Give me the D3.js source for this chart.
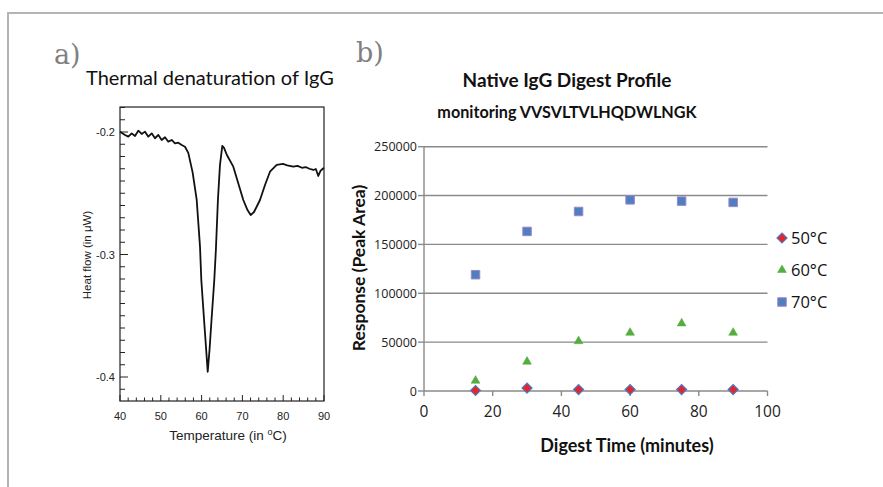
<!DOCTYPE html>
<html><head><meta charset="utf-8">
<script src="https://cdn.jsdelivr.net/npm/d3@7"></script>
<style>html,body{margin:0;padding:0;background:#fff;}svg{display:block;}</style>
</head><body>
<svg id="chart" width="883" height="487"></svg>
<script>
// ---- Panel a) thermal denaturation (DSC trace) ----
const thermalTemp = [40.0,41.23,42.04,42.87,43.68,44.49,45.32,46.13,46.94,47.77,48.58,49.39,50.22,51.03,51.84,52.67,53.48,54.29,55.12,55.93,56.74,57.8,58.8,59.61,59.93,60.71,61.5,61.94,62.43,63.11,63.5,64.0,64.5,65.07,65.5,66.2,67.77,70.22,71.25,72.03,72.84,74.31,75.54,76.76,78.41,79.95,81.0,82.48,83.5,84.6,85.5,86.4,87.38,88.0,88.6,89.14,89.83,90.0];
const thermalHeat = [-0.1997,-0.2024,-0.2038,-0.2011,-0.2033,-0.1989,-0.2016,-0.1997,-0.2038,-0.2011,-0.2051,-0.2024,-0.2065,-0.2043,-0.2079,-0.2065,-0.2092,-0.2087,-0.2106,-0.2120,-0.2170,-0.2330,-0.2555,-0.2936,-0.3208,-0.3584,-0.3957,-0.3780,-0.3535,-0.3208,-0.2963,-0.2555,-0.2270,-0.2114,-0.2130,-0.2188,-0.2283,-0.2555,-0.2637,-0.2678,-0.2653,-0.2555,-0.2433,-0.2324,-0.2269,-0.2261,-0.2272,-0.2283,-0.2276,-0.2292,-0.2286,-0.2300,-0.2310,-0.2302,-0.2359,-0.2318,-0.2296,-0.2294];
const thermalXTicks = [40,50,60,70,80,90];
const thermalYTicks = [-0.2,-0.3,-0.4];

// ---- Panel b) native IgG digest profile ----
const digestTimes = [15,30,45,60,75,90];
const series50 = [500,3000,1500,1500,1500,1500];
const series60 = [10500,30000,51000,59600,69200,59600];
const series70 = [119000,163300,183700,195600,194300,193000];
const seriesNames = ["50°C","60°C","70°C"];
const digestXTicks = [0,20,40,60,80,100];
const digestYTicks = [0,50000,100000,150000,200000,250000];

const svg = d3.select("#chart");

// outer frame
svg.append("path").attr("d","M8,487 L8,13 L883,13").attr("fill","none").attr("stroke","#b4b4b4").attr("stroke-width",2);

// panel letters
svg.append("text").attr("x",54).attr("y",64).text("a)")
  .attr("font-family","DejaVu Serif").attr("font-size",27).attr("fill","#808080");
svg.append("text").attr("x",356).attr("y",62).text("b)")
  .attr("font-family","DejaVu Serif").attr("font-size",27).attr("fill","#808080");

// ===== Panel a =====
const ax = d3.scaleLinear().domain([40,90]).range([120,324]);
const ay = d3.scaleLinear().domain([-0.2,-0.4]).range([132,377]);
const aTop = ay(-0.1796), aBot = ay(-0.4196);

svg.append("text").attr("x",86).attr("y",85).text("Thermal denaturation of IgG")
  .attr("font-family","Lato").attr("font-size",20).attr("fill","#111");

const ga = svg.append("g");
ga.append("rect").attr("x",ax(40)).attr("y",aTop).attr("width",ax(90)-ax(40)).attr("height",aBot-aTop)
  .attr("fill","none").attr("stroke","#222").attr("stroke-width",1.2);

// x ticks (inward) - minor every 2 deg
d3.range(40,91,2).forEach(v=>{
  const major = v%10===0;
  ga.append("line").attr("x1",ax(v)).attr("x2",ax(v)).attr("y1",aBot).attr("y2",aBot-(major?6:3.5))
    .attr("stroke","#222").attr("stroke-width",1);
});
// y ticks (inward) - minor every 0.01
d3.range(-42,-17,1).forEach(k=>{
  const v = k/100;
  if (v < -0.4196 || v > -0.1796) return;
  const major = k%10===0;
  ga.append("line").attr("x1",ax(40)).attr("x2",ax(40)+(major?8:5)).attr("y1",ay(v)).attr("y2",ay(v))
    .attr("stroke","#222").attr("stroke-width",1);
});
thermalXTicks.forEach(v=>{
  ga.append("text").attr("x",ax(v)).attr("y",420).attr("text-anchor","middle").text(v)
    .attr("font-family","Liberation Sans").attr("font-size",11).attr("fill","#222");
});
thermalYTicks.forEach(v=>{
  ga.append("text").attr("x",115).attr("y",ay(v)+4).attr("text-anchor","end").text(v.toFixed(1))
    .attr("font-family","Liberation Sans").attr("font-size",11).attr("fill","#222");
});
const tl = ga.append("text").attr("x",228).attr("y",440).attr("text-anchor","middle")
  .attr("font-family","Liberation Sans").attr("font-size",13.5).attr("fill","#222");
tl.append("tspan").text("Temperature (in ");
tl.append("tspan").text("o").attr("font-size",9).attr("dy",-5);
tl.append("tspan").text("C)").attr("dy",5);
ga.append("text").attr("transform","translate(91,255) rotate(-90)").attr("text-anchor","middle")
  .text("Heat flow (in μW)").attr("font-family","Liberation Sans").attr("font-size",11.5).attr("fill","#222");

const thermalData = thermalTemp.map((t,i)=>[t,thermalHeat[i]]);
ga.append("path").datum(thermalData)
  .attr("d", d3.line().x(d=>ax(d[0])).y(d=>ay(d[1])))
  .attr("fill","none").attr("stroke","#111").attr("stroke-width",1.8).attr("stroke-linejoin","round");

// ===== Panel b =====
const bx = d3.scaleLinear().domain([0,100]).range([424,767.5]);
const by = d3.scaleLinear().domain([0,250000]).range([391,146.7]);
const gb = svg.append("g");

gb.append("text").attr("x",567).attr("y",87).attr("text-anchor","middle").text("Native IgG Digest Profile")
  .attr("font-family","Lato").attr("font-weight","bold").attr("font-size",19).attr("fill","#111");
gb.append("text").attr("x",567).attr("y",118).attr("text-anchor","middle").text("monitoring VVSVLTVLHQDWLNGK")
  .attr("font-family","Lato").attr("font-weight","bold").attr("font-size",16.2).attr("fill","#111");

const gridCol = "#8a8a8a";
digestYTicks.forEach(v=>{
  if (v>0) gb.append("line").attr("x1",bx(0)).attr("x2",bx(100)).attr("y1",by(v)).attr("y2",by(v))
    .attr("stroke",gridCol).attr("stroke-width",1.4);
  gb.append("line").attr("x1",bx(0)-6).attr("x2",bx(0)).attr("y1",by(v)).attr("y2",by(v))
    .attr("stroke",gridCol).attr("stroke-width",1.4);
  gb.append("text").attr("x",bx(0)-7).attr("y",by(v)+4.5).attr("text-anchor","end").text(v)
    .attr("font-family","Open Sans").attr("font-size",12.5).attr("fill","#222");
});
gb.append("line").attr("x1",bx(0)).attr("x2",bx(0)).attr("y1",by(250000)).attr("y2",by(0))
  .attr("stroke",gridCol).attr("stroke-width",1.4);
gb.append("line").attr("x1",bx(0)).attr("x2",bx(100)).attr("y1",by(0)).attr("y2",by(0))
  .attr("stroke",gridCol).attr("stroke-width",1.4);
digestXTicks.forEach(v=>{
  gb.append("line").attr("x1",bx(v)).attr("x2",bx(v)).attr("y1",by(0)).attr("y2",by(0)+5)
    .attr("stroke",gridCol).attr("stroke-width",1.4);
  gb.append("text").attr("x",bx(v)).attr("y",417).attr("text-anchor","middle").text(v)
    .attr("font-family","Open Sans").attr("font-size",15.5).attr("fill","#222");
});
gb.append("text").attr("x",627).attr("y",452).attr("text-anchor","middle").text("Digest Time (minutes)")
  .attr("font-family","Lato").attr("font-weight","bold").attr("font-size",18).attr("fill","#111");
gb.append("text").attr("transform","translate(365,268) rotate(-90)").attr("text-anchor","middle")
  .text("Response (Peak Area)").attr("font-family","Lato").attr("font-weight","bold").attr("font-size",17.5).attr("fill","#111");

const styles = [
  {sym:d3.symbolSquare, size:50, rot:45, fill:"#e3262b", stroke:"#4a7bc4", sw:1.2},
  {sym:d3.symbolTriangle, size:34, rot:0, fill:"#55ad3e", stroke:"#55ad3e", sw:0.5},
  {sym:d3.symbolSquare, size:72, rot:0, fill:"#4f7fbf", stroke:"#9b86c9", sw:1}
];
const allSeries = [series50, series60, series70];
[2,1,0].forEach(si=>{
  const st = styles[si];
  gb.selectAll(null).data(digestTimes.map((t,i)=>[t,allSeries[si][i]])).enter().append("path")
    .attr("d", d3.symbol().type(st.sym).size(st.size)())
    .attr("transform", d=>`translate(${bx(d[0])},${by(d[1])}) rotate(${st.rot})`)
    .attr("fill",st.fill).attr("stroke",st.stroke).attr("stroke-width",st.sw);
});
// legend
seriesNames.forEach((name,i)=>{
  const st = styles[i];
  const ly = 238 + i*32;
  gb.append("path").attr("d", d3.symbol().type(st.sym).size(st.size)())
    .attr("transform",`translate(782,${ly}) rotate(${st.rot})`)
    .attr("fill",st.fill).attr("stroke",st.stroke).attr("stroke-width",st.sw);
  gb.append("text").attr("x",791).attr("y",ly+6).text(name)
    .attr("font-family","Open Sans").attr("font-size",16.5).attr("fill","#111");
});
</script>
</body></html>
